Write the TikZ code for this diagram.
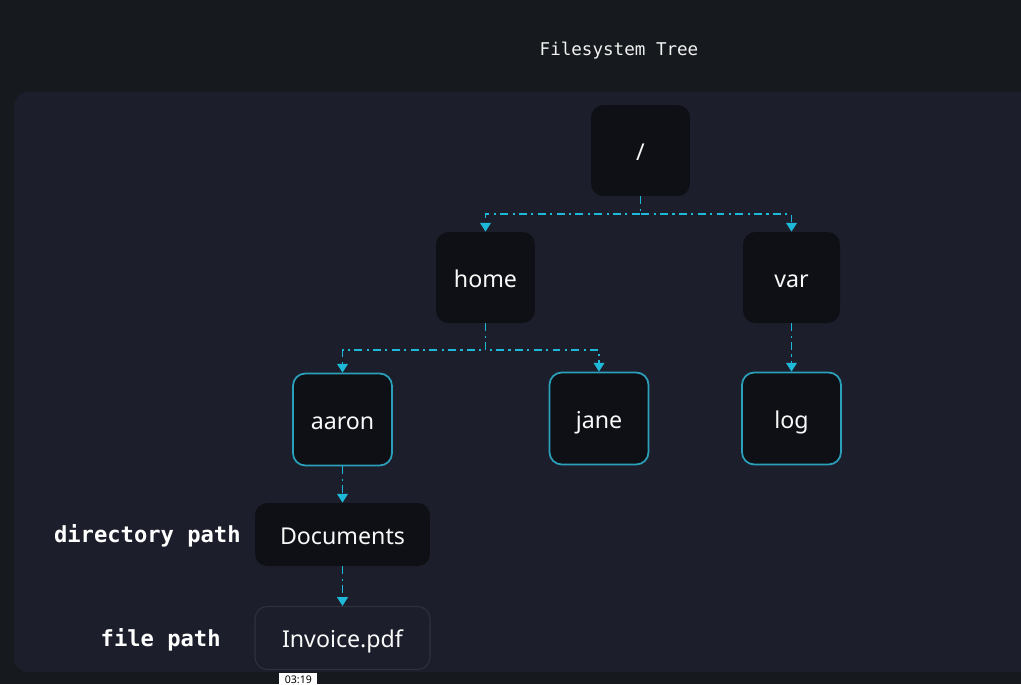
\documentclass[tikz,border=0pt]{standalone}
\usepackage{fontspec}
\setmainfont{Noto Sans}
\setmonofont{DejaVu Sans Mono}
\usetikzlibrary{arrows.meta,positioning}
\definecolor{topbg}{RGB}{22,25,29}
\definecolor{panelbg}{RGB}{28,31,43}
\definecolor{boxbg}{RGB}{14,16,21}
\definecolor{linkcyan}{RGB}{30,184,216}
\definecolor{rimcyan}{RGB}{42,160,186}
\definecolor{rimgray}{RGB}{46,50,62}

\tikzset{
  dirbox/.style={fill=boxbg, rounded corners=7pt, text=white!95!gray, font=\fontsize{13.2}{15}\selectfont,
    inner sep=0pt, text height=12pt, text depth=1pt, minimum width=1.98cm, minimum height=1.82cm},
  userbox/.style={dirbox, draw=rimcyan, line width=1pt, minimum height=1.84cm},
  pathbox/.style={dirbox, minimum width=3.5cm, minimum height=1.26cm},
  filebox/.style={pathbox, fill=panelbg, draw=rimgray, line width=0.6pt},
  link/.style={linkcyan, line width=1.1pt, dash pattern=on 4.5pt off 2.5pt on 1.2pt off 2.5pt,
    -{Triangle[width=6pt,length=5pt]}},
  pathlabel/.style={font=\ttfamily\bfseries\fontsize{12.6}{14}\selectfont, text=white, anchor=east, inner sep=0pt}
}

\begin{document}
\begin{tikzpicture}[x=0.02cm, y=-0.02cm]
    % Canvas and panel
    \useasboundingbox (0,0) rectangle (1021,684);
    \clip (0,0) rectangle (1021,684);
    \fill[topbg] (0,0) rectangle (1021,684);
    \fill[panelbg, rounded corners=8pt] (14,92) rectangle (1040,672);

    % Title
    \node[font=\ttfamily\fontsize{10}{12}\selectfont, text=white!90!gray] (title) at (619,51) {Filesystem Tree};

    % Directories
    \node[dirbox] (root) at (640.5,150.5) {/};
    \node[dirbox] (home) at (485.5,277.5) {home};
    \node[dirbox, minimum width=1.94cm] (var) at (791.5,277.5) {var};
    \node[userbox] (aaron) at (342.5,419.5) {aaron};
    \node[userbox] (jane) at (599,418.5) {jane};
    \node[userbox] (log) at (791.5,418.5) {log};
    \node[pathbox] (docs) at (342.5,534.5) {Documents};
    \node[filebox] (invoice) at (342.5,638) {Invoice.pdf};

    % Connectors
    \draw[link] (root.south) -- ++(0,18) -| (home.north);
    \draw[link] (root.south) -- ++(0,18) -| (var.north);
    \draw[link] (home.south) -- ++(0,27) -| (aaron.north);
    \draw[link] (home.south) -- ++(0,27) -| (jane.north);
    \draw[link] (var.south) -- (log.north);
    \draw[link] (aaron.south) -- (docs.north);
    \draw[link] (docs.south) -- (invoice.north);

    % Path labels
    \node[pathlabel] (dirlabel) at (241,536) {directory path};
    \node[pathlabel] (filelabel) at (221,640) {file path};

    % Timestamp
    \node[fill=white, text=black, font=\fontsize{6}{7}\selectfont, inner sep=0pt,
      minimum width=0.76cm, minimum height=0.24cm, anchor=north west] (stamp) at (279,673) {03:19};
\end{tikzpicture}
\end{document}
